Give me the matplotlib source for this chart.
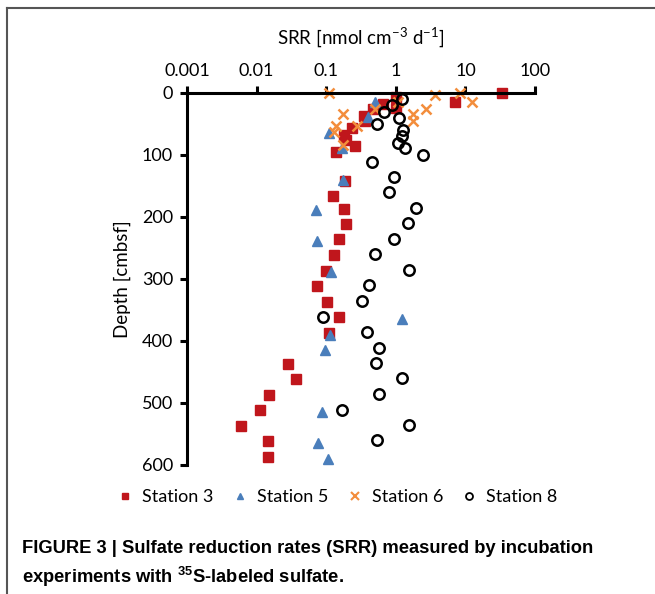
import numpy as np
import matplotlib
matplotlib.use("Agg")
import matplotlib.pyplot as plt
from matplotlib.lines import Line2D

# depth [cmbsf] and SRR [nmol cm-3 d-1]
st3_depth = [0, 6, 15, 17, 25, 26, 37, 45, 56, 67, 76, 86, 96, 142, 166, 187,
             211, 236, 262, 287, 311, 337, 362, 387, 437, 461, 487, 511, 537,
             561, 587]
st3_srr = [34, 1.0, 7.1, 0.66, 1.0, 0.47, 0.35, 0.36, 0.235, 0.18, 0.19, 0.26,
           0.14, 0.187, 0.126, 0.179, 0.193, 0.153, 0.129, 0.10, 0.074, 0.102,
           0.153, 0.11, 0.028, 0.037, 0.015, 0.0111, 0.0059, 0.0148, 0.0145]

st5_depth = [14, 39, 65, 88, 140, 189, 238, 289, 365, 390, 414, 515, 564, 591]
st5_srr = [0.51, 0.40, 0.109, 0.17, 0.173, 0.071, 0.073, 0.119, 1.23, 0.115,
           0.095, 0.087, 0.076, 0.105]

st6_depth = [0, 0, 4, 14, 15, 26, 26, 34, 34, 45, 54, 54, 63, 84]
st6_srr = [0.109, 8.3, 3.6, 1.08, 12.6, 0.51, 2.7, 0.175, 1.77, 1.77, 0.14,
           0.28, 0.13, 0.175]

st8_depth = [10, 20, 30, 40, 50, 60, 69, 80, 89, 100, 111, 135, 160, 185, 210,
             235, 260, 285, 310, 335, 361, 385, 411, 435, 460, 485, 511, 535,
             560]
st8_srr = [1.21, 0.88, 0.68, 1.12, 0.53, 1.25, 1.21, 1.08, 1.35, 2.45, 0.46,
           0.94, 0.79, 1.94, 1.52, 0.93, 0.50, 1.56, 0.41, 0.33, 0.09, 0.38,
           0.57, 0.52, 1.23, 0.565, 0.166, 1.55, 0.545]

xticks = [0.001, 0.01, 0.1, 1, 10, 100]
xticklabels = ["0.001", "0.01", "0.1", "1", "10", "100"]
yticks = [0, 100, 200, 300, 400, 500, 600]

plt.rcParams['font.family'] = ['Lato', 'DejaVu Sans']
plt.rcParams['axes.unicode_minus'] = False

fig = plt.figure(figsize=(6.55, 5.94), dpi=100)
ax = fig.add_axes([0.2855, 0.2172, 0.5313, 0.6263])

red = '#C0161C'
blue = '#4A7EBB'
orange = '#F38D3C'

ax.plot(st3_srr, st3_depth, 's', color=red, ms=7, mec=red, ls='none')
ax.plot(st5_srr, st5_depth, '^', color=blue, ms=7, mec=blue, ls='none')
ax.plot(st6_srr, st6_depth, 'x', color=orange, ms=7.5, mew=1.8, ls='none')
ax.plot(st8_srr, st8_depth, 'o', mfc='none', mec='black', ms=7.5, mew=1.8,
        ls='none')

ax.set_xscale('log')
ax.set_xlim(0.001, 100)
ax.set_ylim(600, 0)
ax.set_xticks(xticks)
ax.set_xticklabels(xticklabels)
ax.set_yticks(yticks)
ax.minorticks_off()
ax.xaxis.tick_top()
ax.xaxis.set_label_position('top')
for s in ['bottom', 'right']:
    ax.spines[s].set_visible(False)
for s in ['top', 'left']:
    ax.spines[s].set_linewidth(2.2)
ax.tick_params(axis='both', length=5, width=2.2, labelsize=13, pad=5)
ax.set_xlabel('SRR [nmol cm$^{\\mathregular{-3}}$ d$^{\\mathregular{-1}}$]',
              fontsize=13.5, labelpad=13)
ax.set_ylabel('Depth [cmbsf]', fontsize=13.5, labelpad=8)
for ln in ax.lines:
    ln.set_clip_on(False)

handles = [
    Line2D([], [], marker='s', color=red, ls='none', ms=5),
    Line2D([], [], marker='^', color=blue, ls='none', ms=5),
    Line2D([], [], marker='x', color=orange, ls='none', ms=6, mew=1.5),
    Line2D([], [], marker='o', mfc='none', mec='black', ls='none', ms=5,
           mew=1.3),
]
fig.legend(handles, ['Station 3', 'Station 5', 'Station 6', 'Station 8'],
           loc='center', bbox_to_anchor=(0.515, 0.163), ncol=4, frameon=False,
           fontsize=13, handlelength=0.9, handletextpad=0.5,
           columnspacing=1.0)

# caption
cap_font = ['Liberation Sans Narrow', 'Liberation Sans', 'DejaVu Sans']
fig.text(0.034, 0.077, 'FIGURE 3 | Sulfate reduction rates (SRR) measured by incubation',
         fontsize=13.2, fontweight='bold', family=cap_font, va='center')
fig.text(0.034, 0.028, 'experiments with $\\mathregular{^{35}}$S-labeled sulfate.',
         fontsize=13.2, fontweight='bold', family=cap_font, va='center')

# frame around the figure (open at the bottom)
fig.add_artist(Line2D([0.011, 0.011], [0, 0.986], color='#555555', lw=1.5,
                      transform=fig.transFigure))
fig.add_artist(Line2D([0.011, 1.0], [0.986, 0.986], color='#555555', lw=1.5,
                      transform=fig.transFigure))

fig.savefig('out.png', dpi=100)
